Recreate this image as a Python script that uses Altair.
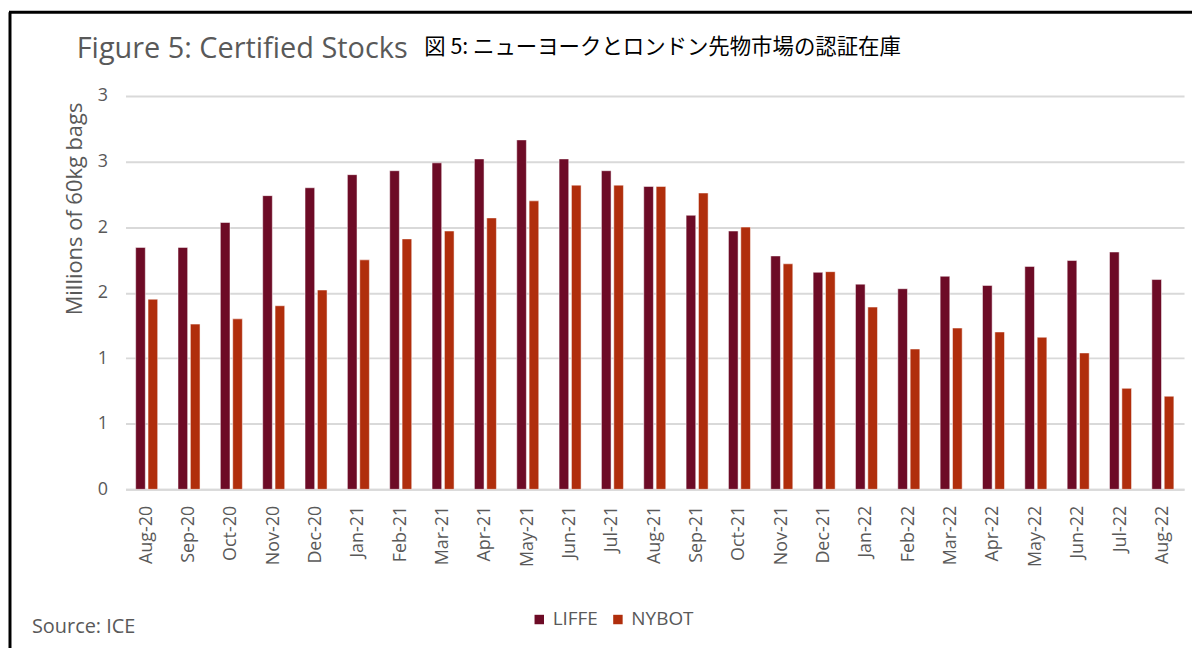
import altair as alt
import pandas as pd

months = ["Aug-20", "Sep-20", "Oct-20", "Nov-20", "Dec-20", "Jan-21", "Feb-21", "Mar-21",
          "Apr-21", "May-21", "Jun-21", "Jul-21", "Aug-21", "Sep-21", "Oct-21", "Nov-21",
          "Dec-21", "Jan-22", "Feb-22", "Mar-22", "Apr-22", "May-22", "Jun-22", "Jul-22", "Aug-22"]
liffe = [1.845, 1.845, 2.035, 2.24, 2.30, 2.40, 2.43, 2.49, 2.52, 2.665, 2.52, 2.43, 2.31,
         2.09, 1.97, 1.78, 1.655, 1.565, 1.53, 1.625, 1.555, 1.70, 1.745, 1.81, 1.60]
nybot = [1.45, 1.26, 1.30, 1.40, 1.52, 1.75, 1.91, 1.97, 2.07, 2.20, 2.32, 2.32, 2.31,
         2.26, 2.00, 1.72, 1.66, 1.39, 1.07, 1.23, 1.20, 1.16, 1.04, 0.77, 0.71]
series = ["LIFFE", "NYBOT"]
colors = ["#6D0B26", "#B02E0C"]
y_ticks = [0, 0.5, 1, 1.5, 2, 2.5, 3]

title_en = "Figure 5: Certified Stocks"
title_ja = "図 5: ニューヨークとロンドン先物市場の認証在庫"
y_title = "Millions of 60kg bags"
source = "Source: ICE"

rows = []
for i, m in enumerate(months):
    rows.append({"month": m, "series": "LIFFE", "value": liffe[i]})
    rows.append({"month": m, "series": "NYBOT", "value": nybot[i]})
df = pd.DataFrame(rows)

FONT = "Open Sans"
GRAY = "#595959"
W, H = 1063, 395

bars = alt.Chart(df).mark_bar(stroke="#ffffff", strokeWidth=0.5).encode(
    x=alt.X("month:N", sort=months,
            scale=alt.Scale(paddingInner=0.48, paddingOuter=0.24),
            axis=alt.Axis(title=None, labelAngle=270, labelFontSize=18, labelColor=GRAY,
                          labelFont=FONT, labelPadding=16, ticks=False,
                          domainColor="#D9D9D9", domainWidth=2, grid=False)),
    xOffset=alt.XOffset("series:N", sort=series,
                        scale=alt.Scale(paddingInner=0.22, paddingOuter=0)),
    y=alt.Y("value:Q", scale=alt.Scale(domain=[0, 3], nice=False),
            axis=alt.Axis(values=y_ticks, labelExpr="round(datum.value)", labelFontSize=18,
                          labelColor=GRAY, labelFont=FONT, labelPadding=18, ticks=False,
                          domain=False, gridColor="#D9D9D9", gridWidth=2,
                          title=y_title, titleFont=FONT, titleFontSize=22,
                          titleFontWeight="normal", titleColor=GRAY,
                          titleX=-51, titleY=113, titleAlign="center",
                          titleBaseline="middle", titleAngle=270)),
    color=alt.Color("series:N", sort=series,
                    scale=alt.Scale(domain=series, range=colors),
                    legend=alt.Legend(title=None, orient="none", direction="horizontal",
                                      legendX=406, legendY=516, symbolType="square",
                                      symbolSize=90, symbolStrokeWidth=0,
                                      labelFontSize=19, labelFont=FONT, labelColor=GRAY,
                                      labelOffset=4, columnPadding=10)),
)

def txt(s, x, y, size, color, font, align="left", weight="normal"):
    return alt.Chart(pd.DataFrame({"t": [s]})).mark_text(
        align=align, baseline="middle", fontSize=size, color=color, font=font,
        fontWeight=weight).encode(x=alt.value(x), y=alt.value(y), text="t:N")

t1 = txt(title_en, -49, -47, 29, GRAY, FONT)
t2 = txt(title_ja, 300, -48, 21.5, "#000000", "Noto Sans CJK JP")
t3 = txt(source, -94, 533, 20, GRAY, FONT)

frame_top = alt.Chart(pd.DataFrame({"a": [0]})).mark_rule(color="#000000", strokeWidth=3).encode(
    x=alt.value(-117), x2=alt.value(1080), y=alt.value(-84))
frame_left = alt.Chart(pd.DataFrame({"a": [0]})).mark_rule(color="#000000", strokeWidth=3).encode(
    x=alt.value(-116), y=alt.value(-84), y2=alt.value(570))

chart = alt.layer(bars, t1, t2, t3, frame_top, frame_left).properties(
    width=W, height=H,
    autosize=alt.AutoSizeParams(type="none"),
    padding={"left": 118, "top": 87, "right": 8, "bottom": 158},
).configure_view(stroke=None)

chart.save("out.html", embed_options={"renderer": "svg", "actions": False})
